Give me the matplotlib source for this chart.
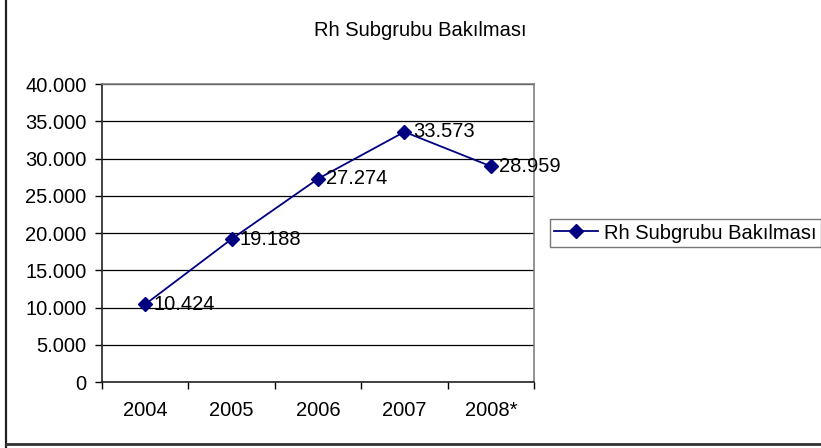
import matplotlib.pyplot as plt
from matplotlib.lines import Line2D
from matplotlib.ticker import FuncFormatter, MultipleLocator

plt.rcParams['font.family'] = ['Liberation Sans', 'DejaVu Sans']

years = ['2004', '2005', '2006', '2007', '2008*']
counts = [10424, 19188, 27274, 33573, 28959]
series_name = 'Rh Subgrubu Bakılması'
navy = '#000080'
fs = 14.5

W, H = 821, 448
fig = plt.figure(figsize=(W / 100, H / 100), dpi=100)

# outer chart border (only left and bottom edges are visible in the shot)
fig.add_artist(Line2D([6 / W, 6 / W], [0, 1], color='#222222', lw=1.6))
fig.add_artist(Line2D([6 / W, 1], [1 - 443.5 / H, 1 - 443.5 / H], color='#333333', lw=2.0))

ax = fig.add_axes([102 / W, 1 - 382 / H, 432 / W, 298 / H])

x = list(range(len(years)))
ax.plot(x, counts, color=navy, lw=1.3, marker='D', markersize=7, zorder=3, clip_on=False)

def dotted(v):
    return f'{int(v):,}'.replace(',', '.')

for xi, v in zip(x, counts):
    ax.annotate(dotted(v), (xi, v), xytext=(6, 0), textcoords='offset points',
                ha='left', va='center', fontsize=fs, zorder=4, annotation_clip=False)

ax.set_xlim(-0.5, len(years) - 0.5)
ax.set_ylim(0, 40000)
ax.yaxis.set_major_locator(MultipleLocator(5000))
ax.yaxis.set_major_formatter(FuncFormatter(lambda v, p: dotted(v)))
ax.grid(axis='y', color='black', lw=0.9)
ax.set_axisbelow(True)

ax.set_xticks(x)
ax.set_xticklabels(years)
ax.set_xticks([i - 0.5 for i in range(len(years) + 1)], minor=True)
ax.tick_params(axis='x', which='major', length=0, pad=14, labelsize=fs)
ax.tick_params(axis='x', which='minor', length=5, width=1, color='black')
ax.tick_params(axis='y', length=5, width=1, pad=6, labelsize=fs)

for s in ['left', 'bottom']:
    ax.spines[s].set_color('#222222')
    ax.spines[s].set_linewidth(1.2)
for s in ['top', 'right']:
    ax.spines[s].set_color('#808080')
    ax.spines[s].set_linewidth(1.2)

fig.text(420 / W, 1 - 31 / H, series_name, ha='center', va='center', fontsize=fs)

handle = Line2D([], [], color=navy, lw=1.3, marker='D', markersize=7)
leg = fig.legend([handle], [series_name], loc='center left',
                 bbox_to_anchor=(550 / W, 1 - 233 / H), fontsize=fs, frameon=True,
                 fancybox=False, borderpad=0.2, handlelength=2.2, handletextpad=0.3,
                 borderaxespad=0)
leg.get_frame().set_edgecolor('#555555')
leg.get_frame().set_linewidth(1.0)

fig.savefig('out.png', dpi=100)
